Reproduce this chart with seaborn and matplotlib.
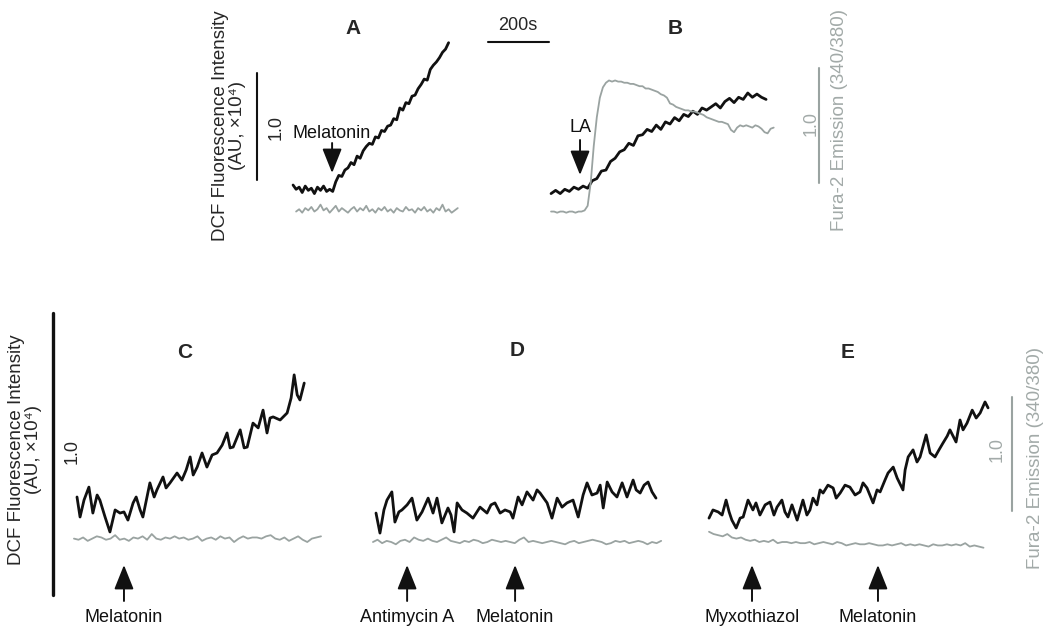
import numpy as np
import matplotlib
matplotlib.use('Agg')
import matplotlib.pyplot as plt
import seaborn as sns

sns.set_theme(style='white')
plt.rcParams['font.family'] = ['Liberation Sans', 'DejaVu Sans']

BLACK = '#111111'
GRAY = '#9aa3a1'
GRAY_TXT = '#a2aaa8'

# ---------------- data ----------------
# A: melatonin, DCF (AU x10^4), sampled every 10 s from t = 10 s
a_dcf = [0.14, 0.10, 0.12, 0.07, 0.13, 0.09, 0.11, 0.06, 0.12, 0.09, 0.13, 0.08, 0.10, 0.08,
         0.17, 0.23, 0.22, 0.28, 0.30, 0.35, 0.33, 0.41, 0.39, 0.46, 0.50, 0.53, 0.52, 0.59,
         0.58, 0.65, 0.64, 0.69, 0.70, 0.76, 0.75, 0.86, 0.84, 0.91, 0.90, 0.97, 0.98, 1.04,
         1.08, 1.13, 1.12, 1.22, 1.26, 1.29, 1.33, 1.38, 1.41, 1.47]
# A: Fura-2 ratio, every 10 s from t = 20 s
a_fura = [0.03, 0.05, 0.02, 0.06, 0.04, 0.07, 0.03, 0.05, 0.09, 0.04, 0.06, 0.02, 0.05, 0.08,
          0.03, 0.06, 0.04, 0.02, 0.05, 0.07, 0.03, 0.06, 0.04, 0.08, 0.03, 0.05, 0.02, 0.06,
          0.04, 0.07, 0.03, 0.05, 0.02, 0.06, 0.04, 0.03, 0.07, 0.04, 0.05, 0.02, 0.06, 0.04,
          0.07, 0.03, 0.05, 0.02, 0.06, 0.04, 0.09, 0.03, 0.05, 0.02, 0.04, 0.06]

# B: linoleic acid, DCF every 15 s from t = 10 s
b_dcf = [0.06, 0.09, 0.06, 0.10, 0.08, 0.12, 0.10, 0.13, 0.11, 0.18, 0.20, 0.27, 0.28, 0.36,
         0.39, 0.45, 0.47, 0.53, 0.51, 0.60, 0.61, 0.66, 0.64, 0.70, 0.66, 0.73, 0.71, 0.77,
         0.74, 0.80, 0.78, 0.83, 0.80, 0.86, 0.84, 0.87, 0.90, 0.86, 0.92, 0.95, 0.91, 0.96,
         0.94, 1.00, 0.96, 0.99, 0.96, 0.94]
# B: Fura-2 every 10 s from t = 10 s
b_fura = [0.03, 0.03, 0.02, 0.03, 0.03, 0.02, 0.03, 0.03, 0.02, 0.03, 0.03, 0.04, 0.08, 0.28,
          0.60, 0.85, 1.02, 1.11, 1.15, 1.17, 1.16, 1.17, 1.16, 1.16, 1.15, 1.15, 1.14, 1.14,
          1.13, 1.12, 1.12, 1.10, 1.10, 1.09, 1.08, 1.07, 1.05, 1.04, 1.02, 0.97, 0.96, 0.94,
          0.93, 0.92, 0.91, 0.91, 0.90, 0.90, 0.89, 0.88, 0.87, 0.85, 0.84, 0.83, 0.82, 0.81,
          0.81, 0.80, 0.79, 0.74, 0.72, 0.76, 0.78, 0.77, 0.78, 0.77, 0.76, 0.78, 0.77, 0.75,
          0.72, 0.71, 0.75, 0.76]

# C: melatonin (time in s, DCF)
c_time = [0, 10, 23, 39, 52, 66, 75, 92, 108, 125, 141, 154, 167, 184, 194, 207, 216, 239, 253,
          262, 282, 292, 305, 328, 344, 358, 371, 381, 394, 410, 426, 443, 459, 476, 492, 502,
          512, 535, 548, 558, 577, 594, 610, 623, 633, 643, 666, 689, 702, 712, 722, 731, 745]
c_dcf = [0.188, 0.117, 0.177, 0.223, 0.131, 0.195, 0.177, 0.117, 0.064, 0.142, 0.131, 0.135,
         0.106, 0.167, 0.188, 0.142, 0.117, 0.238, 0.188, 0.213, 0.259, 0.220, 0.238, 0.273,
         0.248, 0.284, 0.330, 0.266, 0.294, 0.344, 0.294, 0.337, 0.344, 0.372, 0.415, 0.362,
         0.365, 0.426, 0.362, 0.365, 0.450, 0.433, 0.496, 0.415, 0.468, 0.472, 0.461, 0.486,
         0.539, 0.621, 0.550, 0.532, 0.592]
# C: Fura-2 every 15 s from t = -10 s
c_fura = [0.10, 0.09, 0.11, 0.08, 0.10, 0.12, 0.11, 0.09, 0.10, 0.13, 0.09, 0.10, 0.08, 0.11,
          0.10, 0.12, 0.09, 0.14, 0.10, 0.09, 0.11, 0.10, 0.12, 0.10, 0.11, 0.09, 0.10, 0.12,
          0.08, 0.10, 0.11, 0.09, 0.12, 0.10, 0.11, 0.07, 0.10, 0.12, 0.10, 0.11, 0.11, 0.10,
          0.12, 0.13, 0.10, 0.09, 0.11, 0.08, 0.10, 0.12, 0.09, 0.07, 0.10, 0.11, 0.12]

# D: antimycin A, then melatonin
d_time = [0, 13, 26, 36, 52, 62, 75, 85, 102, 118, 134, 151, 171, 187, 200, 216, 236, 246, 256,
          266, 282, 298, 318, 341, 364, 377, 390, 407, 423, 440, 449, 466, 479, 495, 515, 528,
          538, 561, 577, 594, 610, 626, 646, 663, 679, 692, 708, 725, 735, 745, 758, 774, 790,
          807, 823, 843, 853, 866, 879, 892, 905, 918]
d_dcf = [0.131, 0.060, 0.142, 0.177, 0.206, 0.099, 0.135, 0.142, 0.160, 0.184, 0.106, 0.135,
         0.184, 0.131, 0.184, 0.096, 0.149, 0.124, 0.064, 0.167, 0.142, 0.131, 0.113, 0.152,
         0.131, 0.160, 0.167, 0.131, 0.142, 0.135, 0.113, 0.188, 0.160, 0.206, 0.177, 0.213,
         0.202, 0.167, 0.113, 0.184, 0.152, 0.167, 0.177, 0.117, 0.195, 0.238, 0.195, 0.202,
         0.230, 0.149, 0.241, 0.206, 0.188, 0.238, 0.188, 0.248, 0.213, 0.202, 0.230, 0.241,
         0.206, 0.184]
# D: Fura-2 every 15 s from t = -10 s
d_fura = [0.07, 0.09, 0.06, 0.08, 0.07, 0.05, 0.08, 0.09, 0.07, 0.11, 0.09, 0.08, 0.10, 0.08,
          0.07, 0.09, 0.11, 0.08, 0.07, 0.06, 0.08, 0.07, 0.09, 0.08, 0.06, 0.07, 0.09, 0.08,
          0.07, 0.08, 0.07, 0.06, 0.09, 0.11, 0.07, 0.08, 0.07, 0.06, 0.07, 0.08, 0.07, 0.06,
          0.05, 0.07, 0.08, 0.06, 0.07, 0.08, 0.09, 0.08, 0.07, 0.05, 0.06, 0.08, 0.07, 0.08,
          0.06, 0.07, 0.08, 0.07, 0.05, 0.07, 0.06, 0.08]

# E: myxothiazol, then melatonin
e_time = [0, 13, 30, 43, 56, 66, 75, 89, 102, 112, 128, 144, 154, 167, 184, 200, 213, 223, 239,
          249, 259, 272, 289, 308, 321, 331, 341, 354, 364, 374, 390, 407, 417, 430, 446, 462,
          479, 495, 505, 518, 538, 551, 561, 577, 587, 604, 617, 636, 643, 653, 669, 682, 692,
          712, 725, 741, 754, 767, 781, 790, 810, 823, 833, 846, 863, 876, 889, 905, 915]
e_dcf = [0.113, 0.142, 0.135, 0.124, 0.177, 0.135, 0.106, 0.078, 0.113, 0.117, 0.177, 0.142,
         0.167, 0.124, 0.160, 0.170, 0.124, 0.152, 0.177, 0.135, 0.117, 0.160, 0.106, 0.177,
         0.124, 0.142, 0.184, 0.160, 0.213, 0.202, 0.230, 0.220, 0.184, 0.202, 0.230, 0.223,
         0.195, 0.206, 0.238, 0.220, 0.167, 0.213, 0.206, 0.248, 0.273, 0.294, 0.255, 0.213,
         0.284, 0.330, 0.355, 0.312, 0.330, 0.408, 0.344, 0.330, 0.355, 0.379, 0.404, 0.426,
         0.383, 0.461, 0.426, 0.450, 0.496, 0.468, 0.486, 0.525, 0.504]
# E: Fura-2 every 15 s from t = 0 s
e_fura = [0.16, 0.14, 0.13, 0.12, 0.14, 0.11, 0.10, 0.11, 0.09, 0.08, 0.09, 0.07, 0.08, 0.07,
          0.09, 0.06, 0.07, 0.07, 0.06, 0.07, 0.06, 0.06, 0.07, 0.05, 0.06, 0.07, 0.06, 0.05,
          0.07, 0.06, 0.04, 0.05, 0.06, 0.05, 0.05, 0.06, 0.05, 0.04, 0.04, 0.05, 0.04, 0.05,
          0.06, 0.04, 0.05, 0.04, 0.05, 0.04, 0.03, 0.05, 0.04, 0.04, 0.05, 0.04, 0.05, 0.04,
          0.06, 0.03, 0.04, 0.03, 0.02]

# drug additions (s)
a_events = [('Melatonin', 138)]
b_events = [('LA', 105)]
c_events = [('Melatonin', 154)]
d_events = [('Antimycin A', 102), ('Melatonin', 456)]
e_events = [('Myxothiazol', 141), ('Melatonin', 554)]

# ---------------- layout ----------------
W, H = 1050, 635
PX_PER_S = 61 / 200.0
fig = plt.figure(figsize=(W / 100, H / 100), dpi=100)


def panel(box, x0, y0_dcf, px_dcf, y0_fura, px_fura):
    # box in image pixels (left, top, right, bottom)
    l, t, r, b = box
    ax = fig.add_axes([l / W, 1 - b / H, (r - l) / W, (b - t) / H])
    ax.set_xlim((l - x0) / PX_PER_S, (r - x0) / PX_PER_S)
    ax.set_ylim((y0_dcf - b) / px_dcf, (y0_dcf - t) / px_dcf)
    ax2 = ax.twinx()
    ax2.set_ylim((y0_fura - b) / px_fura, (y0_fura - t) / px_fura)
    ax.axis('off')
    ax2.axis('off')
    return ax, ax2


def traces(ax, ax2, t_dcf, dcf, t_fura, fura):
    sns.lineplot(x=t_fura, y=fura, ax=ax2, color=GRAY, lw=1.3, estimator=None, legend=False)
    sns.lineplot(x=t_dcf, y=dcf, ax=ax, color=BLACK, lw=2.0, estimator=None, legend=False)


ARROW = dict(arrowstyle='-|>,head_length=0.75,head_width=0.3', color=BLACK, lw=1.4,
             mutation_scale=20, shrinkA=0, shrinkB=0)


def events(ax, evs, tip_y, tail_y, text_y):
    # y positions in image pixels, x = time of addition
    for name, t in evs:
        ax.annotate('', xy=(t, H - tip_y), xytext=(t, H - tail_y),
                    xycoords=('data', 'figure pixels'), textcoords=('data', 'figure pixels'),
                    arrowprops=ARROW)
        ax.annotate(name, xy=(t, H - text_y), xycoords=('data', 'figure pixels'),
                    ha='center', va='center', fontsize=13, color=BLACK)


step = np.arange
# top row
axA, axA2 = panel((280, 20, 470, 230), 290, 200, 107, 215, 115)
traces(axA, axA2, 10 + 10 * step(len(a_dcf)), a_dcf, 20 + 10 * step(len(a_fura)), a_fura)
axB, axB2 = panel((540, 20, 790, 230), 548, 200, 107, 215, 115)
traces(axB, axB2, 10 + 15 * step(len(b_dcf)), b_dcf, 10 + 10 * step(len(b_fura)), b_fura)

# bottom row
axC, axC2 = panel((60, 330, 340, 560), 77, 550, 282, 550, 114)
traces(axC, axC2, c_time, c_dcf, -10 + 15 * step(len(c_fura)), c_fura)
axD, axD2 = panel((360, 330, 680, 560), 376, 550, 282, 550, 114)
traces(axD, axD2, d_time, d_dcf, -10 + 15 * step(len(d_fura)), d_fura)
axE, axE2 = panel((690, 330, 1000, 560), 709, 550, 282, 550, 114)
traces(axE, axE2, e_time, e_dcf, 15 * step(len(e_fura)), e_fura)

# arrows
events(axA, a_events, 173, 143, 133)
events(axB, b_events, 175, 140, 128)
for ax, evs in [(axC, c_events), (axD, d_events), (axE, e_events)]:
    events(ax, evs, 565, 601, 618)

# scale bars (1.0 AU DCF, 1.0 Fura ratio, 200 s)
axA.plot([-108, -108], [0.19, 1.19], color=BLACK, lw=1.5, clip_on=False)
axB2.plot([889, 889], [0.28, 1.28], color=GRAY, lw=1.5, clip_on=False)
axA.plot([649, 849], [1.477, 1.477], color=BLACK, lw=1.5, clip_on=False)
axC.plot([-79, -79], [-0.16, 0.84], color=BLACK, lw=2.4, clip_on=False)
axE2.plot([994, 994], [0.34, 1.34], color=GRAY, lw=1.5, clip_on=False)


# text
def ftext(x, y, s, **kw):
    fig.text(x / W, 1 - y / H, s, ha='center', va='center', **kw)


ftext(518, 26, '200s', fontsize=13)
for letter, x, y in [('A', 353, 28), ('B', 675, 28), ('C', 185, 352), ('D', 517, 350), ('E', 848, 352)]:
    ftext(x, y, letter, fontsize=15, fontweight='bold')

ylab = 'DCF Fluorescence Intensity\n(AU, \u00d710\u2074)'
ftext(229, 126, ylab, fontsize=13.5, rotation=90, linespacing=1.05)
ftext(25, 450, ylab, fontsize=13.5, rotation=90, linespacing=1.05)
ftext(276, 128, '1.0', fontsize=13, rotation=90)
ftext(72, 452, '1.0', fontsize=13, rotation=90)

flab = 'Fura-2 Emission (340/380)'
ftext(839, 120, flab, fontsize=13.5, rotation=90, color=GRAY_TXT)
ftext(1035, 458, flab, fontsize=13.5, rotation=90, color=GRAY_TXT)
ftext(811, 123, '1.0', fontsize=13, rotation=90, color=GRAY_TXT)
ftext(997, 450, '1.0', fontsize=13, rotation=90, color=GRAY_TXT)

fig.savefig('out.png', dpi=100, facecolor='white')
